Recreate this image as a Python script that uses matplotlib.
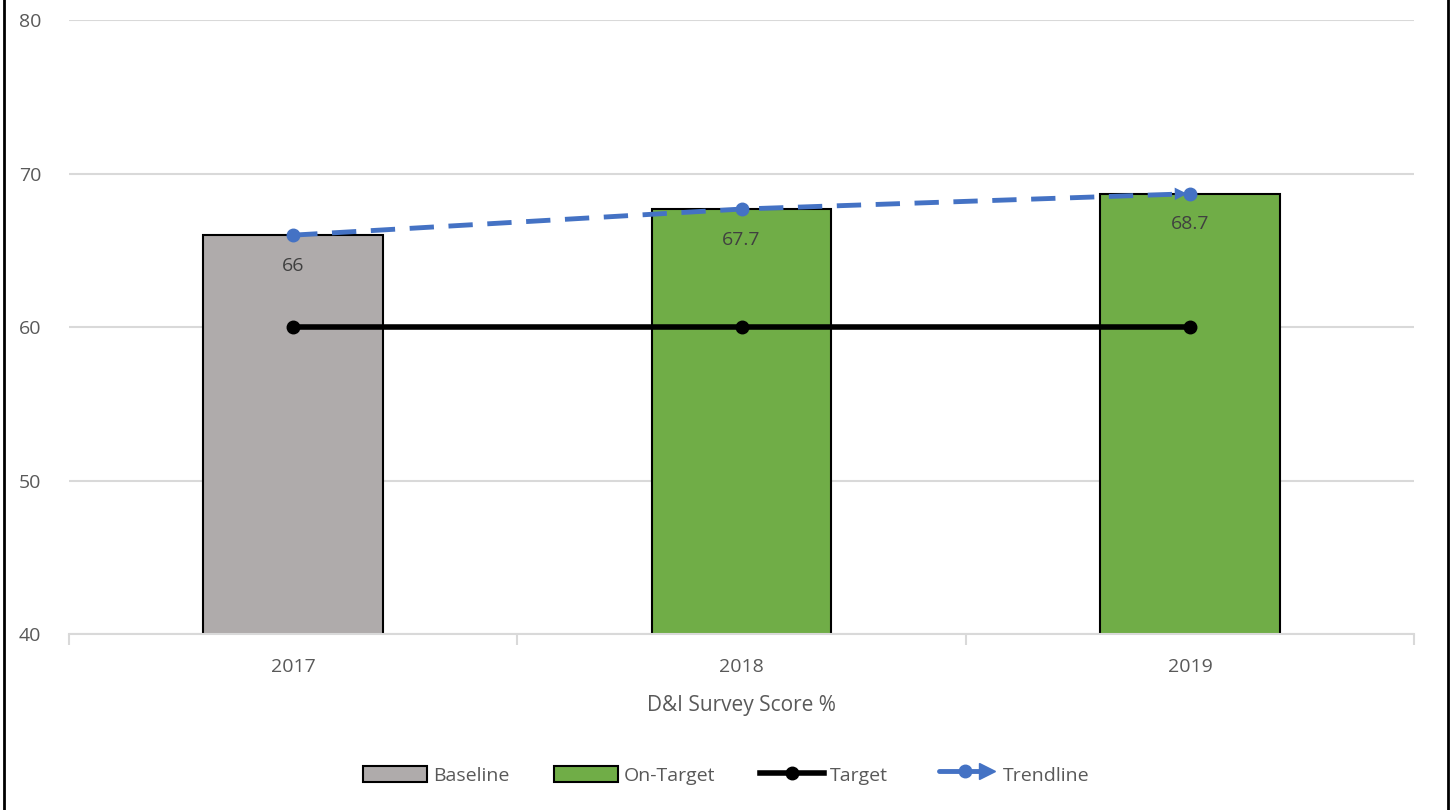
import numpy as np
import matplotlib
matplotlib.use("Agg")
from matplotlib import pyplot as plt
from matplotlib.lines import Line2D
from matplotlib.patches import Patch
from matplotlib.legend_handler import HandlerBase

years = ["2017", "2018", "2019"]
baseline = [66, np.nan, np.nan]
on_target = [np.nan, 67.7, 68.7]
target = [60, 60, 60]
trend = [66, 67.7, 68.7]
trend_labels = ["66", "67.7", "68.7"]

GREY = "#AFABAB"
GREEN = "#70AD47"
BLUE = "#4472C4"
TXT = "#595959"
GRID = "#D9D9D9"

plt.rcParams["font.family"] = ["Open Sans", "DejaVu Sans"]

fig = plt.figure(figsize=(14.52, 8.10), dpi=100)
ax = fig.add_axes([0.0475, 0.217, 0.9265, 0.758])

x = np.arange(len(years))
ax.bar(x, baseline, width=0.4, color=GREY, edgecolor="black", linewidth=1.5, zorder=2)
ax.bar(x, on_target, width=0.4, color=GREEN, edgecolor="black", linewidth=1.5, zorder=2)
ax.plot(x, target, color="black", lw=4, marker="o", ms=9, zorder=3)
ax.plot(x, trend, color=BLUE, lw=3.5, dashes=(5, 3), marker="o", ms=9,
        markevery=[0, 1], zorder=4)
# arrow head at the end of the trendline
ax.plot(x[-1], trend[-1], marker="o", ms=9, color=BLUE, zorder=4)
ax.annotate("", xy=(x[-1], trend[-1]), xytext=(x[-1] - 0.06, trend[-1] - 0.02),
            arrowprops=dict(arrowstyle="-|>,head_length=0.9,head_width=0.45",
                            color=BLUE, lw=0), zorder=5)

for xi, v, s in zip(x, trend, trend_labels):
    ax.annotate(s, (xi, v), xytext=(0, -22), textcoords="offset points",
                ha="center", va="center", fontsize=14, color="#404040", zorder=6)

ax.set_xlim(-0.5, 2.5)
ax.set_ylim(40, 80)
ax.set_yticks([40, 50, 60, 70, 80])
ax.yaxis.grid(True, color=GRID, lw=1.5, zorder=0)
ax.set_axisbelow(True)
ax.set_xticks(x)
ax.set_xticklabels(years)
ax.set_xticks([-0.5, 0.5, 1.5, 2.5], minor=True)
ax.tick_params(axis="x", which="major", length=0, pad=17, labelsize=14, labelcolor=TXT)
ax.tick_params(axis="x", which="minor", length=8, color=GRID, width=1.5)
ax.tick_params(axis="y", length=0, pad=20, labelsize=14, labelcolor=TXT)
for s in ["top", "right", "left"]:
    ax.spines[s].set_visible(False)
ax.spines["bottom"].set_color(GRID)
ax.spines["bottom"].set_linewidth(1.5)
ax.set_xlabel("D&I Survey Score %", fontsize=15, color=TXT, labelpad=14)


class TrendHandler(HandlerBase):
    def create_artists(self, legend, orig, xd, yd, w, h, fs, trans):
        y = yd + h / 2
        ln = Line2D([xd + w * 0.1, xd + w * 0.85], [y, y], color=BLUE, lw=3.5,
                    solid_capstyle="round", transform=trans)
        dot = Line2D([xd + w * 0.5], [y], marker="o", ms=9, color=BLUE, transform=trans)
        tip = Line2D([xd + w * 0.85], [y], marker=">", ms=11, color=BLUE, transform=trans)
        return [ln, dot, tip]


handles = [
    Patch(facecolor=GREY, edgecolor="black", linewidth=1.5),
    Patch(facecolor=GREEN, edgecolor="black", linewidth=1.5),
    Line2D([], [], color="black", lw=4, marker="o", ms=9),
    Line2D([], [], color=BLUE),
]
fig.legend(handles, ["Baseline", "On-Target", "Target", "Trendline"],
           loc="center", bbox_to_anchor=(0.5, 0.043), ncol=4, frameon=False,
           fontsize=14, labelcolor=TXT, handlelength=3.3, handleheight=0.9,
           columnspacing=2.3, handletextpad=0.3,
           handler_map={handles[3]: TrendHandler()})

# frame lines at left and right edge
fig.add_artist(Line2D([0.003, 0.003], [0, 1], color="black", lw=2, transform=fig.transFigure))
fig.add_artist(Line2D([0.997, 0.997], [0, 1], color="black", lw=2, transform=fig.transFigure))

fig.savefig("out.png", dpi=100)
